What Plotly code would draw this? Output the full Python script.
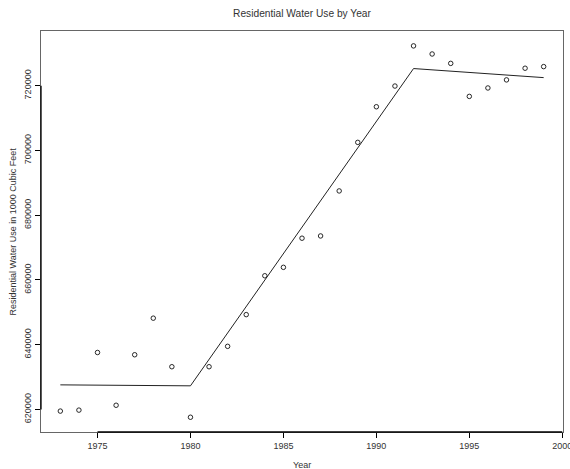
import plotly.graph_objects as go

# Annual residential water use (thousand cubic feet)
years = list(range(1973, 2000))
water_use = [619500, 619800, 637600, 621300, 636900, 648200, 633200, 617600,
             633200, 639500, 649300, 661300, 663900, 672900, 673600, 687500,
             702500, 713500, 719900, 732300, 729800, 726900, 716700, 719300,
             721800, 725400, 725900]

# Segmented (broken-line) fit, breakpoints at 1980 and 1992
fit_years = [1973, 1980, 1992, 1999]
fit_values = [627600, 627300, 725300, 722500]

x_ticks = [1975, 1980, 1985, 1990, 1995, 2000]
y_ticks = [620000, 640000, 660000, 680000, 700000, 720000]

FONT = "Liberation Sans, Arial, Helvetica, sans-serif"
W, H = 570, 469
L, R, T, B = 41, 7, 31, 37

xr = [1971.96, 2000.04]
yr = [613040, 736900]

fig = go.Figure()
fig.add_trace(go.Scatter(
    x=fit_years, y=fit_values, mode="lines",
    line=dict(color="#222222", width=1), hoverinfo="skip", showlegend=False))
fig.add_trace(go.Scatter(
    x=years, y=water_use, mode="markers",
    marker=dict(symbol="circle-open", size=4.5, color="#111111",
                line=dict(width=0.9, color="#111111")),
    showlegend=False))

# axis lines spanning first to last tick (drawn over the frame)
fig.add_shape(type="line", xref="x", yref="paper",
              x0=x_ticks[0], x1=x_ticks[-1], y0=0, y1=0,
              line=dict(color="black", width=1.3))
fig.add_shape(type="line", xref="paper", yref="y",
              x0=0, x1=0, y0=y_ticks[0], y1=y_ticks[-1],
              line=dict(color="black", width=1.3))

plot_w = W - L - R
plot_h = H - T - B

fig.update_layout(
    width=W, height=H,
    margin=dict(l=L, r=R, t=T, b=B, pad=0, autoexpand=False),
    paper_bgcolor="white", plot_bgcolor="white",
    font=dict(family=FONT, size=9, color="#333333"),
    title=dict(text="Residential Water Use by Year",
               x=0.5, xref="paper", y=1 - 13.5 / H, yref="container",
               xanchor="center", yanchor="middle",
               font=dict(family=FONT, size=10.2, color="#333333")),
    xaxis=dict(range=xr, tickvals=x_ticks, ticktext=[str(v) for v in x_ticks],
               showgrid=False, zeroline=False, showline=True, mirror=True,
               linecolor="#666666", linewidth=1, automargin=False,
               ticks="outside", ticklen=5, tickwidth=1, tickcolor="black",
               ticklabeloverflow="allow",
               tickfont=dict(family=FONT, size=9, color="#333333")),
    yaxis=dict(range=yr, tickvals=y_ticks, ticktext=[str(v) for v in y_ticks],
               showgrid=False, zeroline=False, showline=True, mirror=True,
               linecolor="#666666", linewidth=1, automargin=False,
               ticks="outside", ticklen=5, tickwidth=1, tickcolor="black",
               tickangle=-90,
               tickfont=dict(family=FONT, size=9, color="#333333")),
    annotations=[
        dict(text="Year", xref="paper", yref="paper",
             x=0.5, y=-(465 - (H - B)) / plot_h,
             xanchor="center", yanchor="middle", showarrow=False,
             font=dict(family=FONT, size=9, color="#333333")),
        dict(text="Residential Water Use in 1000 Cubic Feet",
             xref="paper", yref="paper",
             x=(12 - L) / plot_w, y=0.5, textangle=-90,
             xanchor="center", yanchor="middle", showarrow=False,
             font=dict(family=FONT, size=9, color="#333333")),
    ],
)

fig.write_html("out.html")
